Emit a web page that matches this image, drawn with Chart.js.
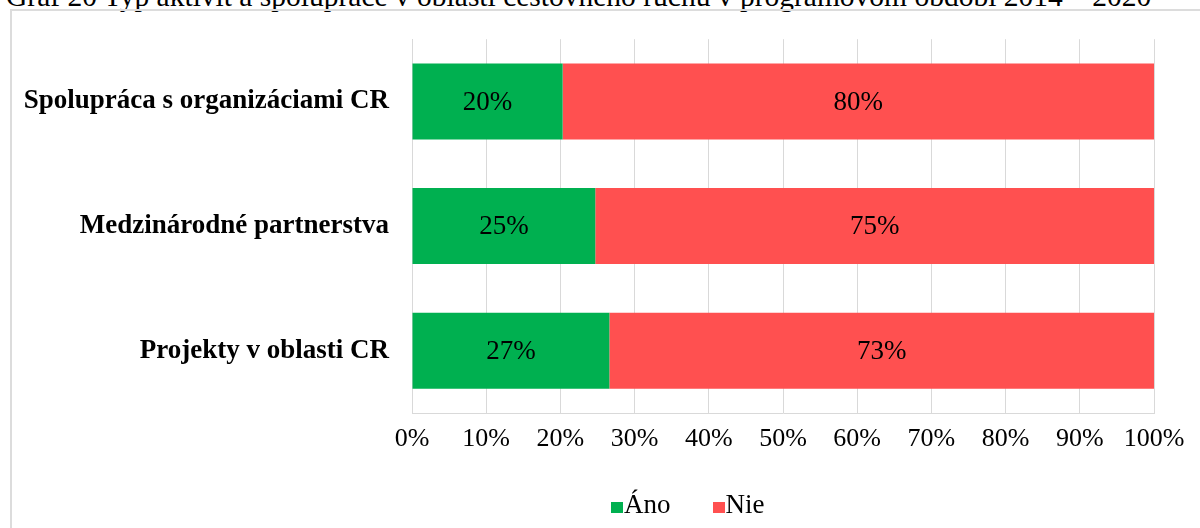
<!DOCTYPE html>
<html>
<head>
<meta charset="utf-8">
<script src="https://cdn.jsdelivr.net/npm/chart.js@4.4.1/dist/chart.umd.min.js"></script>
<style>
  html, body { margin: 0; padding: 0; background: #fff; }
  body { width: 1200px; height: 528px; overflow: hidden; position: relative; font-family: 'Liberation Serif', 'Times New Roman', serif; }
  #title { position: absolute; left: 6px; top: -16px; font-size: 29.5px; line-height: 24px; white-space: nowrap; color: #000; }
  #frame { position: absolute; left: 10px; top: 9px; width: 1300px; height: 700px; border: 2px solid #dcdcdc; box-sizing: border-box; }
  #wrap { position: absolute; left: 0; top: 0; width: 1200px; height: 528px; }
  #legend { position: absolute; left: 611px; top: 490px; display: flex; gap: 42px; font-size: 27px; line-height: 28px; color: #000; }
  #legend .item { display: flex; align-items: baseline; }
  #legend .box { display: inline-block; width: 12px; height: 11px; margin-right: 1px; margin-bottom: 3px; }
</style>
</head>
<body>
<div id="title">Graf 20 Typ aktivít a spolupráce v oblasti cestovného ruchu v programovom období 2014 – 2020</div>
<div id="frame"></div>
<div id="wrap"><canvas id="chart"></canvas></div>
<div id="legend"></div>
<script>
// data ---------------------------------------------------------------
const categories = ['Spolupráca s organizáciami CR', 'Medzinárodné partnerstva', 'Projekty v oblasti CR']
const anoValues = [20.3, 24.7, 26.6]
const nieValues = [79.7, 75.3, 73.4]
const tickValues = [0, 10, 20, 30, 40, 50, 60, 70, 80, 90, 100]

const serif = "'Liberation Serif', 'Times New Roman', serif"

// percentages written in the middle of each bar
const barLabels = {
  id: 'barLabels',
  afterDatasetsDraw(chart) {
    const ctx = chart.ctx
    ctx.save()
    ctx.font = '27px ' + serif
    ctx.fillStyle = '#000'
    ctx.textAlign = 'center'
    ctx.textBaseline = 'middle'
    chart.data.datasets.forEach((ds, i) => {
      chart.getDatasetMeta(i).data.forEach((bar, j) => {
        const x = (bar.x + bar.base) / 2
        ctx.fillText(Math.round(ds.data[j]) + '%', x, bar.y + 1)
      })
    })
    ctx.restore()
  }
}

const chart = new Chart(document.getElementById('chart'), {
  type: 'bar',
  data: {
    labels: categories,
    datasets: [
      { label: 'Áno', data: anoValues, backgroundColor: '#00b050', barPercentage: 0.61, categoryPercentage: 1 },
      { label: 'Nie', data: nieValues, backgroundColor: '#ff5050', barPercentage: 0.61, categoryPercentage: 1 }
    ]
  },
  options: {
    indexAxis: 'y',
    responsive: true,
    maintainAspectRatio: false,
    animation: false,
    layout: { padding: { left: 0, right: 46, top: 38, bottom: 55 } },
    scales: {
      x: {
        stacked: true,
        min: 0,
        max: 100,
        afterBuildTicks: s => { s.ticks = tickValues.map(v => ({ value: v })) },
        afterFit: s => { s.height = 60 },
        grid: { color: '#d9d9d9', drawTicks: false },
        border: { color: '#d9d9d9' },
        ticks: {
          padding: 11,
          color: '#000',
          font: { family: serif, size: 26 },
          callback: v => v + '%'
        }
      },
      y: {
        stacked: true,
        afterFit: s => { s.width = 412 },
        grid: { display: false, drawTicks: false },
        border: { color: '#d9d9d9' },
        ticks: {
          padding: 23,
          color: '#000',
          font: { family: serif, size: 27, weight: 'bold' }
        }
      }
    },
    plugins: {
      legend: { display: false },
      tooltip: { enabled: false }
    }
  },
  plugins: [barLabels]
})

// legend built from the datasets
const legend = document.getElementById('legend')
chart.data.datasets.forEach(ds => {
  const item = document.createElement('div')
  item.className = 'item'
  item.innerHTML = `<span class="box" style="background:${ds.backgroundColor}"></span>${ds.label}`
  legend.appendChild(item)
})
</script>
</body>
</html>
